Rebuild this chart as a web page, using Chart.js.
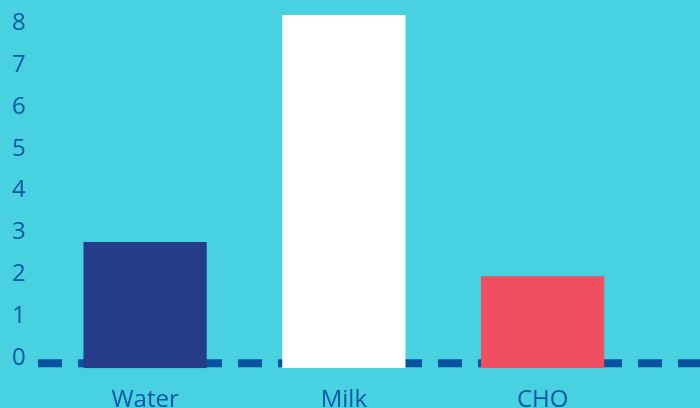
<!DOCTYPE html>
<html>
<head>
<meta charset="utf-8">
<script src="https://cdn.jsdelivr.net/npm/chart.js@4/dist/chart.umd.min.js"></script>
<style>
  html, body { margin: 0; padding: 0; background: #48D1E1; }
  #wrap { width: 700px; height: 408px; position: relative; }
</style>
</head>
<body>
<div id="wrap"><canvas id="c"></canvas></div>
<script>
const categories = ["Water", "Milk", "CHO"];
const values = [2.77, 8.2, 1.95];
const barColors = ["#253C8A", "#FFFFFF", "#EF4F60"];
const yTicks = [0, 1, 2, 3, 4, 5, 6, 7, 8];
const yMin = -0.25;
const yMax = 8.2;
const dashedLineValue = -0.13;

const textColor = "#0C58A5";
const fontFamily = "'Open Sans', 'Noto Sans', sans-serif";

const dashedLinePlugin = {
  id: "dashedLine",
  beforeDatasetsDraw(chart) {
    const ctx = chart.ctx;
    const y = chart.scales.y.getPixelForValue(dashedLineValue);
    ctx.save();
    ctx.strokeStyle = "#0552A0";
    ctx.lineWidth = 8;
    ctx.setLineDash([24, 16]);
    ctx.beginPath();
    ctx.moveTo(38, y);
    ctx.lineTo(chart.width, y);
    ctx.stroke();
    ctx.restore();
  }
};

new Chart(document.getElementById("c"), {
  type: "bar",
  data: {
    labels: categories,
    datasets: [{
      data: values,
      backgroundColor: barColors,
      borderWidth: 0,
      base: yMin,
      barPercentage: 0.62,
      categoryPercentage: 1
    }]
  },
  options: {
    responsive: true,
    maintainAspectRatio: false,
    animation: false,
    layout: { padding: { left: -8, right: 58, top: 15, bottom: -25 } },
    plugins: { legend: { display: false }, tooltip: { enabled: false } },
    scales: {
      x: {
        grid: { display: false, drawTicks: false },
        border: { display: false },
        ticks: { color: textColor, font: { family: fontFamily, size: 24 }, padding: 18 }
      },
      y: {
        min: yMin,
        max: yMax,
        afterBuildTicks(scale) {
          scale.ticks = yTicks.map(v => ({ value: v }));
        },
        afterFit(scale) {
          scale.paddingTop = 0;
          scale.paddingBottom = 0;
        },
        grid: { display: false, drawTicks: false },
        border: { display: false },
        ticks: { color: textColor, font: { family: fontFamily, size: 24 }, padding: 20 }
      }
    }
  },
  plugins: [dashedLinePlugin]
});
</script>
</body>
</html>
